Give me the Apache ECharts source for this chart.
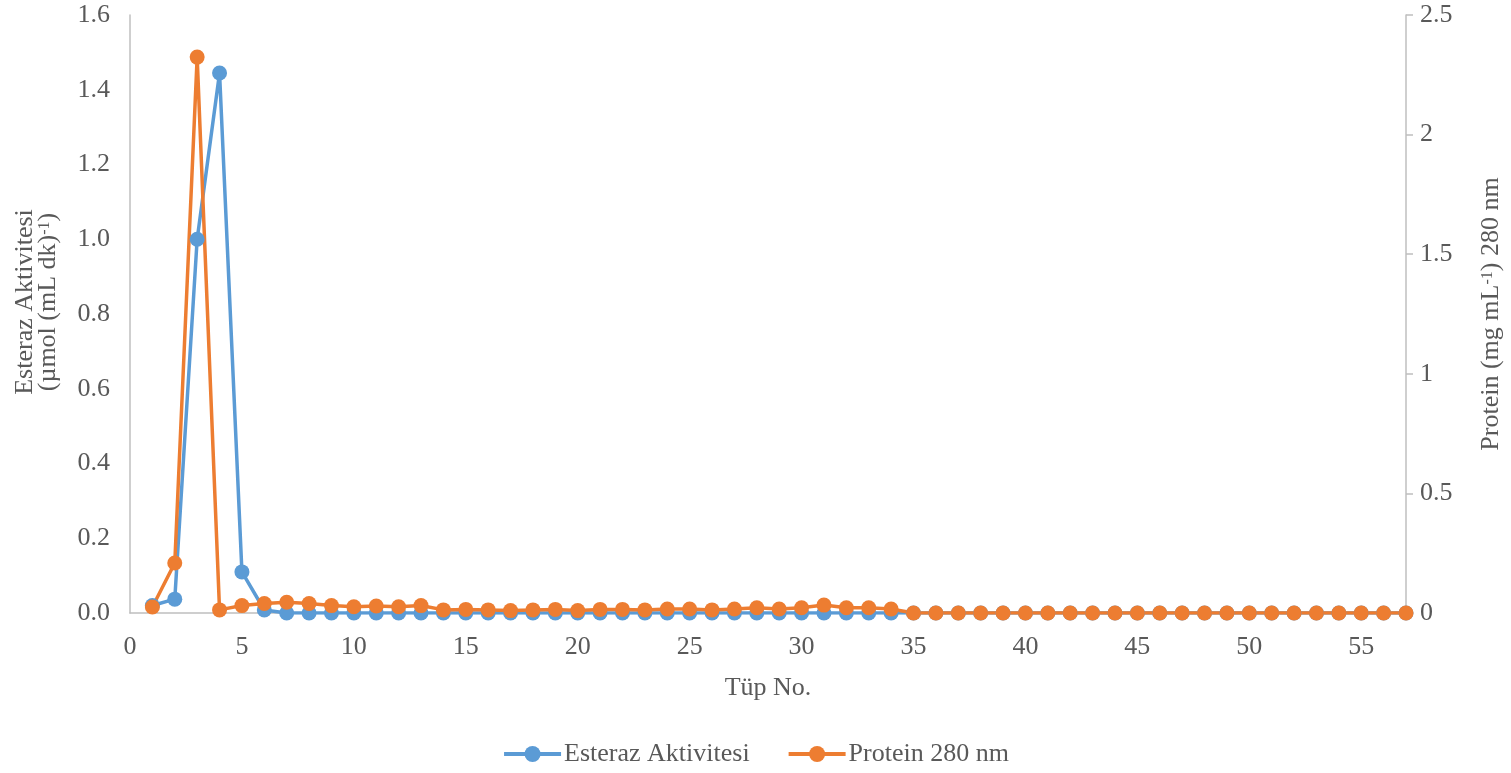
<!DOCTYPE html>
<html>
<head>
<meta charset="utf-8">
<script src="https://cdn.jsdelivr.net/npm/echarts@6/dist/echarts.min.js"></script>
<style>
  html, body { margin: 0; padding: 0; background: #fff; }
  #chart { width: 1511px; height: 773px; }
</style>
</head>
<body>
<div id="chart"></div>
<script>
// Tube numbers 1..57
const tubes = [];
for (let i = 1; i <= 57; i++) tubes.push(i);

// Esterase activity per tube (µmol (mL dk)^-1)
const esterazAktivitesi = [
  0.02, 0.037, 1.0, 1.445, 0.11, 0.008, 0, 0, 0, 0,
  0, 0, 0, 0, 0, 0, 0, 0, 0, 0,
  0, 0, 0, 0, 0, 0, 0, 0, 0, 0,
  0, 0, 0, 0, 0, 0, 0, 0, 0, 0,
  0, 0, 0, 0, 0, 0, 0, 0, 0, 0,
  0, 0, 0, 0, 0, 0, 0
];

// Protein absorbance at 280 nm per tube (mg mL^-1)
const protein280 = [
  0.025, 0.209, 2.324, 0.013, 0.031, 0.04, 0.045, 0.04, 0.031, 0.026,
  0.029, 0.026, 0.031, 0.013, 0.015, 0.013, 0.01, 0.013, 0.015, 0.01,
  0.015, 0.015, 0.013, 0.017, 0.017, 0.013, 0.017, 0.022, 0.017, 0.022,
  0.033, 0.022, 0.022, 0.017, 0, 0, 0, 0, 0, 0,
  0, 0, 0, 0, 0, 0, 0, 0, 0, 0,
  0, 0, 0, 0, 0, 0, 0
];

const seriesNames = ['Esteraz Aktivitesi', 'Protein 280 nm'];
const seriesColors = ['#5B9BD5', '#ED7D31'];

const FONT = '"Liberation Serif", "Times New Roman", serif';
const TEXT = '#595959';
const AXIS = '#BFBFBF';
const FS = 26;

const pairs = vals => tubes.map((t, i) => [t, vals[i]]);

// Rich styles for axis titles with a superscript "-1"
const titleRich = {
  a: { fontFamily: FONT, fontSize: FS, color: TEXT, lineHeight: 23 },
  b: { fontFamily: FONT, fontSize: 16, color: TEXT, verticalAlign: 'top', lineHeight: 23, padding: [0, 0, 10, 0] }
};

const chart = echarts.init(document.getElementById('chart'));
chart.setOption({
  backgroundColor: '#fff',
  animation: false,
  textStyle: { fontFamily: FONT, color: TEXT },
  grid: { left: 130, right: 105, top: 15, bottom: 160, containLabel: false, outerBoundsMode: 'none' },
  legend: {
    bottom: 1,
    left: 'center',
    itemWidth: 57,
    itemHeight: 20,
    itemGap: 37,
    lineStyle: { width: 4 },
    textStyle: { fontFamily: FONT, fontSize: FS, color: TEXT, padding: [0, 0, 0, -2] },
    data: seriesNames
  },
  xAxis: {
    type: 'value',
    min: 0, max: 57, interval: 5,
    name: 'Tüp No.',
    nameLocation: 'middle',
    nameGap: 62,
    nameTextStyle: { fontFamily: FONT, fontSize: FS, color: TEXT },
    axisLine: { show: true, lineStyle: { color: AXIS, width: 1.5 } },
    axisTick: { show: false },
    splitLine: { show: false },
    axisLabel: { fontFamily: FONT, fontSize: FS, color: TEXT, margin: 21, showMaxLabel: false }
  },
  yAxis: [
    {
      type: 'value',
      min: 0, max: 1.6, interval: 0.2,
      position: 'left',
      name: '{a|Esteraz Aktivitesi}\n{a|(µmol (mL dk)}{b|-1}{a|)}',
      nameLocation: 'middle',
      nameRotate: 90,
      nameGap: 70,
      nameTextStyle: { fontFamily: FONT, color: TEXT, align: 'center', rich: titleRich, padding: [0, 0, 0, 24] },
      axisLine: { show: true, lineStyle: { color: AXIS, width: 1.5 } },
      axisTick: { show: false },
      splitLine: { show: false },
      axisLabel: {
        fontFamily: FONT, fontSize: FS, color: TEXT, margin: 20,
        formatter: v => v.toFixed(1)
      }
    },
    {
      type: 'value',
      min: 0, max: 2.5, interval: 0.5,
      position: 'right',
      name: '{a|Protein (mg mL}{b|-1}{a|) 280 nm}',
      nameLocation: 'middle',
      nameRotate: 90,
      nameGap: 74,
      nameTextStyle: { fontFamily: FONT, color: TEXT, rich: titleRich },
      axisLine: { show: true, lineStyle: { color: AXIS, width: 1.5 } },
      axisTick: { show: true, length: 7, lineStyle: { color: AXIS, width: 1.5 } },
      splitLine: { show: false },
      axisLabel: { fontFamily: FONT, fontSize: FS, color: TEXT, margin: 14 }
    }
  ],
  series: [
    {
      name: seriesNames[0],
      type: 'line',
      yAxisIndex: 0,
      data: pairs(esterazAktivitesi),
      color: seriesColors[0],
      symbol: 'circle',
      symbolSize: 15,
      lineStyle: { width: 3.5 },
      itemStyle: { color: seriesColors[0] }
    },
    {
      name: seriesNames[1],
      type: 'line',
      yAxisIndex: 1,
      data: pairs(protein280),
      color: seriesColors[1],
      symbol: 'circle',
      symbolSize: 15,
      lineStyle: { width: 3.5 },
      itemStyle: { color: seriesColors[1] }
    }
  ]
});
</script>
</body>
</html>
